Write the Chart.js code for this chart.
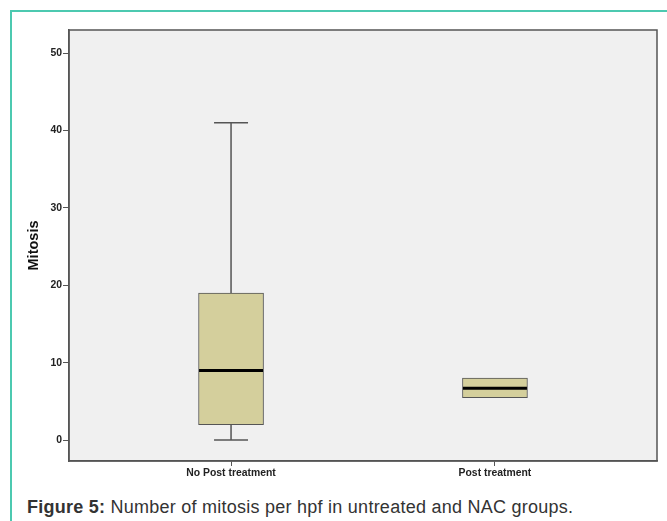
<!DOCTYPE html>
<html>
<head>
<meta charset="utf-8">
<script src="https://cdn.jsdelivr.net/npm/chart.js@4.4.1/dist/chart.umd.min.js"></script>
<style>
body{margin:0;background:#fff;width:667px;height:521px;overflow:hidden;position:relative;font-family:"Liberation Sans",Arial,sans-serif;}
#frame{position:absolute;left:10px;top:10px;width:660px;height:520px;border-left:2px solid #4cc9b0;border-top:2px solid #4cc9b0;}
#wrap{position:absolute;left:0;top:0;width:667px;height:490px;}
#caption{position:absolute;left:27px;top:498px;font-size:18px;line-height:18px;letter-spacing:0.25px;color:#333;white-space:nowrap;}
</style>
</head>
<body>
<div id="frame"></div>
<div id="wrap"><canvas id="c" width="667" height="490"></canvas></div>
<div id="caption"><b>Figure 5:</b> Number of mitosis per hpf in untreated and NAC groups.</div>
<script>
let groups=["No Post treatment","Post treatment"];
let minVals=[0,5.5];
let q1Vals=[2,5.5];
let medianVals=[9,6.7];
let q3Vals=[19,8];
let maxVals=[41,8];
let yTicks=[0,10,20,30,40,50];

let boxData=groups.map((g,i)=>({x:i,y:[q1Vals[i],q3Vals[i]]}));

const areaPlugin={
id:"area",
beforeDraw(chart){
let a=chart.chartArea, ctx=chart.ctx;
ctx.save();
ctx.fillStyle="#f0f0f0";
ctx.fillRect(a.left,a.top,a.right-a.left,a.bottom-a.top);
ctx.restore();
},
afterDatasetsDraw(chart){
let ctx=chart.ctx, xs=chart.scales.x, ys=chart.scales.y;
ctx.save();
groups.forEach((g,i)=>{
let cx=xs.getPixelForValue(i);
let half=17;
ctx.strokeStyle="#555";
ctx.lineWidth=1.5;
if(maxVals[i]>q3Vals[i]){
ctx.beginPath();
ctx.moveTo(cx,ys.getPixelForValue(q3Vals[i]));
ctx.lineTo(cx,ys.getPixelForValue(maxVals[i]));
ctx.moveTo(cx-half,ys.getPixelForValue(maxVals[i]));
ctx.lineTo(cx+half,ys.getPixelForValue(maxVals[i]));
ctx.stroke();
}
if(minVals[i]<q1Vals[i]){
ctx.beginPath();
ctx.moveTo(cx,ys.getPixelForValue(q1Vals[i]));
ctx.lineTo(cx,ys.getPixelForValue(minVals[i]));
ctx.moveTo(cx-half,ys.getPixelForValue(minVals[i]));
ctx.lineTo(cx+half,ys.getPixelForValue(minVals[i]));
ctx.stroke();
}
ctx.strokeStyle="#000";
ctx.lineWidth=3;
ctx.beginPath();
ctx.moveTo(cx-32,ys.getPixelForValue(medianVals[i]));
ctx.lineTo(cx+32,ys.getPixelForValue(medianVals[i]));
ctx.stroke();
});
let a=chart.chartArea;
ctx.strokeStyle="#555";
ctx.lineWidth=1.5;
ctx.strokeRect(a.left,a.top,a.right-a.left,a.bottom-a.top);
ctx.restore();
}
};

new Chart(document.getElementById("c"),{
type:"bar",
data:{
datasets:[{
data:boxData,
backgroundColor:"#d4cf9c",
borderColor:"#555",
borderWidth:1,
borderSkipped:false,
barThickness:65
}]
},
options:{
responsive:false,
animation:false,
layout:{padding:{top:30,right:10,bottom:0,left:0}},
plugins:{legend:{display:false},tooltip:{enabled:false}},
scales:{
x:{
type:"linear",
offset:false,
min:-0.614,
max:1.614,
afterBuildTicks(s){s.ticks=groups.map((g,i)=>({value:i}));},
afterFit(s){s.height=29;},
ticks:{callback:(v)=>groups[v],color:"#222",font:{family:"Liberation Sans",size:10.4,weight:"bold"},padding:1,maxRotation:0},
grid:{drawOnChartArea:false,offset:false,tickLength:5,color:"#555"},
border:{color:"#555",width:1.5}
},
y:{
min:-2.7,
max:53,
afterBuildTicks(s){s.ticks=yTicks.map(v=>({value:v}));},
afterFit(s){s.width=69;},
ticks:{color:"#222",font:{family:"Liberation Sans",size:10.4,weight:"bold"},padding:1},
grid:{drawOnChartArea:false,tickLength:6,color:"#555"},
border:{color:"#555",width:1.5},
title:{display:true,text:"Mitosis",color:"#111",font:{family:"Liberation Sans",size:14.5,weight:"bold"},padding:{top:25,bottom:0}}
}
}
},
plugins:[areaPlugin]
});
</script>
</body>
</html>
